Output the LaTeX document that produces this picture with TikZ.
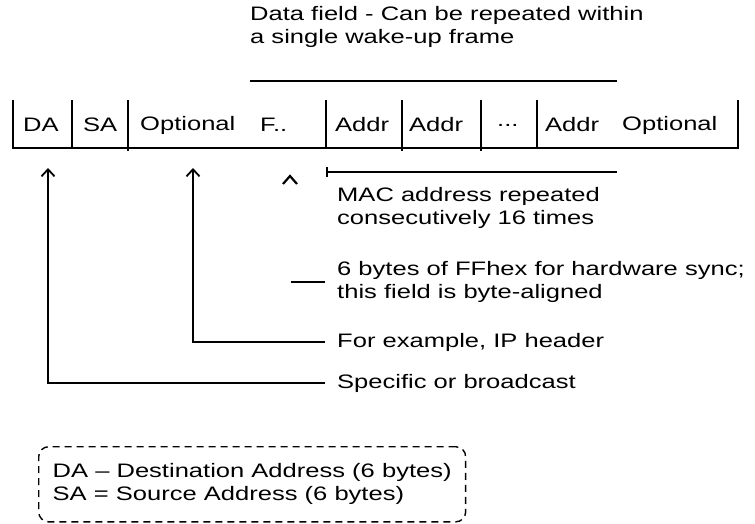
\documentclass[tikz,border=0pt]{standalone}
\usepackage{fontspec}
\setmainfont{Liberation Sans}[FakeStretch=1.31]
\usetikzlibrary{arrows.meta}
\begin{document}
\begin{tikzpicture}[x=1pt,y=-1pt,
  every node/.style={font=\fontsize{19.5}{23}\selectfont, inner sep=0pt},
  lbl/.style={anchor=west, align=left},
  cell/.style={anchor=west},
  frm/.style={line width=1.8pt},
  lnk/.style={line width=1.8pt},
  arr/.style={line width=1.8pt, -{Straight Barb[length=7pt,width=13pt]}},
  legend/.style={draw, rounded corners=10pt, line width=1.4pt, dash pattern=on 7pt off 5pt,
                 align=left, inner xsep=14pt, inner ysep=17pt}]
\fill[white] (0,0) rectangle (755,524);
\useasboundingbox (0,0) rectangle (755,524);

% title
\node[lbl] (title) at (250,27) {Data field - Can be repeated within\\a single wake-up frame};
\coordinate (tl1) at (250,81);
\coordinate (tl2) at (617,81);
\draw[lnk] (tl1) -- (tl2);

% frame
\draw[frm] (13,100) -- (13,148) -- (738,148) -- (738,100);
\draw[frm] (72,100) -- (72,148);
\draw[frm] (128,100) -- (128,151);
\draw[frm] (326,100) -- (326,148);
\draw[frm] (402,100) -- (402,151);
\draw[frm] (481,100) -- (481,151);
\draw[frm] (537,100) -- (537,148);

\node[cell] (da)   at (23,125)  {DA};
\node[cell] (sa)   at (83,125)  {SA};
\node[cell] (opt1) at (140,125) {Optional};
\node[cell] (ff)   at (260,125) {F..};
\node[cell] (ad1)  at (335,125) {Addr};
\node[cell] (ad2)  at (409,125) {Addr};
\node[cell] (dots) at (497,125) {...};
\node[cell] (ad3)  at (545,125) {Addr};
\node[cell] (opt2) at (622,125) {Optional};

% MAC bracket
\coordinate (mb1) at (327,167);
\coordinate (mb2) at (327,177);
\coordinate (ms) at (327,172);
\coordinate (me) at (617,172);
\draw[lnk] (mb1) -- (mb2);
\draw[lnk] (ms) -- (me);

% labels
\node[lbl] (mac)   at (337,208) {MAC address repeated\\consecutively 16 times};
\node[lbl] (sixb)  at (337,282) {6 bytes of FFhex for hardware sync;\\this field is byte-aligned};
\node[lbl] (forex) at (337,342) {For example, IP header};
\node[lbl] (spec)  at (337,383) {Specific or broadcast};

% arrows
\coordinate (daarr) at (48,168);
\coordinate (optarr) at (193,168);
\draw[arr] ([xshift=-12pt]spec.west) -| (daarr);
\draw[arr] ([xshift=-12pt]forex.west) -| (optarr);
\draw[lnk] ([xshift=-12pt]sixb.west) -- ++(-34,0);

% lone caret
\coordinate (car) at (290,176);
\draw[line width=2.2pt] ([shift={(-7,8)}]car) -- (car) -- ([shift={(7,8)}]car);

% legend
\node[legend, anchor=north west] (leg) at (38,446) {DA -- Destination Address (6 bytes)\\SA = Source Address (6 bytes)};
\end{tikzpicture}
\end{document}
